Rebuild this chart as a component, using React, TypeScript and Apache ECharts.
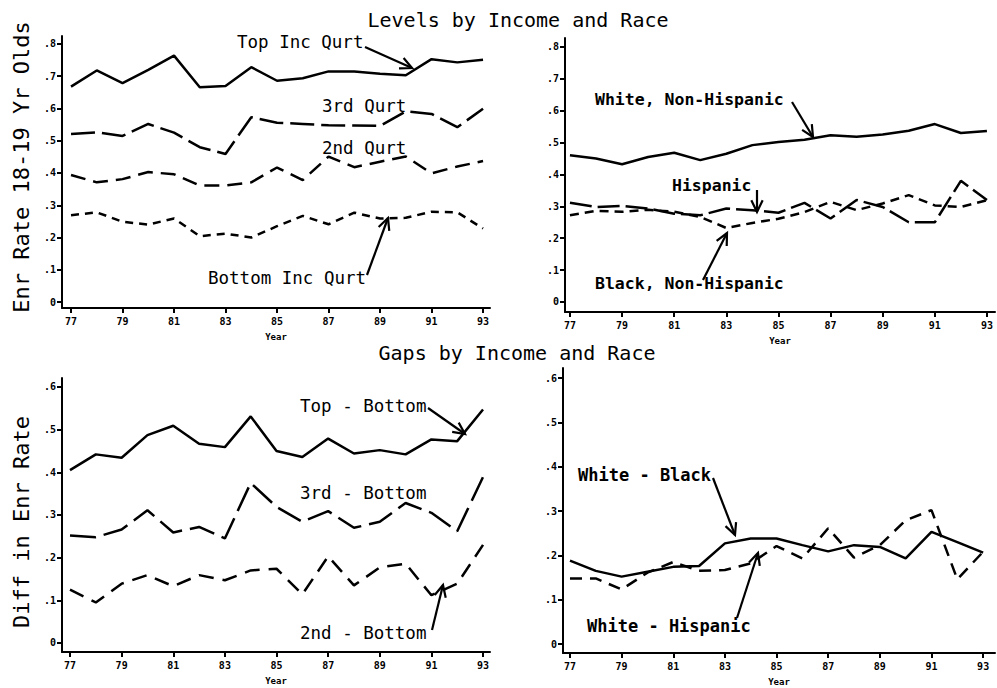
import React, { useEffect, useRef } from "react";
import * as echarts from "echarts";

const years = [77, 78, 79, 80, 81, 82, 83, 84, 85, 86, 87, 88, 89, 90, 91, 92, 93];
const xTickValues = [77, 79, 81, 83, 85, 87, 89, 91, 93];
const levelTicks = [0, 0.1, 0.2, 0.3, 0.4, 0.5, 0.6, 0.7, 0.8];
const gapTicks = [0, 0.1, 0.2, 0.3, 0.4, 0.5, 0.6];

// Panel 1: levels by income quartile
const topInc = [0.668, 0.718, 0.679, 0.72, 0.764, 0.666, 0.67, 0.728, 0.686, 0.694, 0.715, 0.715, 0.708, 0.703, 0.753, 0.743, 0.751];
const thirdInc = [0.521, 0.526, 0.515, 0.552, 0.525, 0.48, 0.459, 0.573, 0.556, 0.552, 0.548, 0.547, 0.546, 0.591, 0.583, 0.542, 0.599];
const secondInc = [0.394, 0.371, 0.381, 0.403, 0.396, 0.361, 0.361, 0.371, 0.417, 0.378, 0.451, 0.418, 0.435, 0.451, 0.399, 0.42, 0.437];
const bottomInc = [0.269, 0.278, 0.249, 0.24, 0.259, 0.204, 0.212, 0.2, 0.235, 0.267, 0.241, 0.277, 0.259, 0.261, 0.28, 0.278, 0.228];

// Panel 2: levels by race
const whiteNH = [0.46, 0.45, 0.432, 0.455, 0.468, 0.445, 0.465, 0.492, 0.502, 0.509, 0.523, 0.518, 0.525, 0.537, 0.558, 0.53, 0.536];
const hispanic = [0.311, 0.298, 0.301, 0.293, 0.277, 0.272, 0.293, 0.288, 0.28, 0.311, 0.262, 0.32, 0.298, 0.25, 0.25, 0.38, 0.32];
const blackNH = [0.272, 0.286, 0.283, 0.289, 0.283, 0.267, 0.232, 0.248, 0.261, 0.282, 0.314, 0.288, 0.309, 0.335, 0.303, 0.298, 0.319];

// Panel 3: income gaps
const topMinusBottom = [0.405, 0.442, 0.434, 0.487, 0.509, 0.467, 0.459, 0.531, 0.45, 0.436, 0.479, 0.444, 0.452, 0.442, 0.477, 0.473, 0.547];
const thirdMinusBottom = [0.252, 0.248, 0.266, 0.311, 0.259, 0.272, 0.245, 0.375, 0.319, 0.284, 0.309, 0.27, 0.284, 0.328, 0.305, 0.262, 0.389];
const secondMinusBottom = [0.125, 0.095, 0.139, 0.159, 0.133, 0.159, 0.147, 0.17, 0.174, 0.114, 0.203, 0.135, 0.177, 0.186, 0.112, 0.139, 0.23];

// Panel 4: race gaps
const whiteMinusBlack = [0.188, 0.165, 0.152, 0.163, 0.174, 0.176, 0.227, 0.238, 0.238, 0.223, 0.209, 0.223, 0.219, 0.193, 0.253, 0.23, 0.206];
const whiteMinusHispanic = [0.148, 0.148, 0.123, 0.161, 0.185, 0.165, 0.167, 0.182, 0.221, 0.193, 0.261, 0.195, 0.223, 0.279, 0.302, 0.146, 0.208];

const MONO = "'DejaVu Sans Mono', 'Liberation Mono', monospace";

function pairs(vals: number[]) {
  return years.map((y, i) => [y, vals[i]]);
}

function fmtY(v: number) {
  if (Math.abs(v) < 1e-9) return "0";
  return v.toFixed(1).replace(/^0/, "");
}

function makeX(gridIndex: number, min: number, max: number) {
  return {
    type: "value",
    gridIndex,
    min,
    max,
    name: "Year",
    nameLocation: "middle",
    nameGap: 24,
    nameTextStyle: { fontFamily: MONO, fontSize: 9, fontWeight: "bold", color: "#000" },
    splitLine: { show: false },
    axisLine: { show: true, onZero: false, lineStyle: { color: "#000", width: 2 } },
    axisTick: { show: true, length: 5, lineStyle: { color: "#000", width: 2 }, customValues: xTickValues },
    axisLabel: {
      show: true,
      customValues: xTickValues,
      formatter: (v: number) => String(Math.round(v)),
      fontFamily: MONO,
      fontSize: 10,
      fontWeight: "bold",
      color: "#000",
      margin: 8,
    },
  };
}

function makeY(gridIndex: number, min: number, max: number, ticks: number[]) {
  return {
    type: "value",
    gridIndex,
    min,
    max,
    splitLine: { show: false },
    axisLine: { show: true, onZero: false, lineStyle: { color: "#000", width: 2 } },
    axisTick: { show: true, length: 5, lineStyle: { color: "#000", width: 2 }, customValues: ticks },
    axisLabel: {
      show: true,
      customValues: ticks,
      formatter: (v: number) => fmtY(v),
      fontFamily: MONO,
      fontSize: 10,
      fontWeight: "bold",
      color: "#000",
      margin: 6,
    },
  };
}

function line(name: string, idx: number, vals: number[], dash: any) {
  return {
    name,
    type: "line",
    xAxisIndex: idx,
    yAxisIndex: idx,
    data: pairs(vals),
    showSymbol: false,
    symbol: "none",
    smooth: false,
    lineStyle: { color: "#000", width: 2.5, type: dash },
  };
}

function text(str: string, x: number, y: number, size = 17.5, align = "left", rotation = 0, weight = "normal") {
  return {
    type: "text",
    x,
    y,
    rotation,
    style: {
      text: str,
      fontFamily: MONO,
      fontSize: size,
      fontWeight: weight,
      fill: "#000",
      align,
      verticalAlign: "middle",
    },
  };
}

function arrow(x1: number, y1: number, x2: number, y2: number) {
  const ang = Math.atan2(y2 - y1, x2 - x1);
  const L = 13;
  const spread = 0.45;
  const p1 = [x2 - L * Math.cos(ang - spread), y2 - L * Math.sin(ang - spread)];
  const p2 = [x2 - L * Math.cos(ang + spread), y2 - L * Math.sin(ang + spread)];
  return [
    { type: "line", shape: { x1, y1, x2, y2 }, style: { stroke: "#000", lineWidth: 2.2 } },
    { type: "polyline", shape: { points: [p1, [x2, y2], p2] }, style: { stroke: "#000", lineWidth: 2.2, fill: "none" } },
  ];
}

export default function App() {
  const ref = useRef<HTMLDivElement>(null);
  useEffect(() => {
    if (!ref.current) return;
    const chart = echarts.init(ref.current, undefined, { renderer: "svg" });
    const option: any = {
      animation: false,
      backgroundColor: "#fff",
      grid: [
        { left: 62, top: 36, width: 428, height: 272 },
        { left: 565, top: 38, width: 430, height: 274 },
        { left: 62, top: 378, width: 428, height: 274 },
        { left: 563, top: 368, width: 432, height: 285 },
      ],
      xAxis: [
        makeX(0, 76.65, 93.27),
        makeX(1, 76.81, 93.31),
        makeX(2, 76.69, 93.27),
        makeX(3, 76.73, 93.46),
      ],
      yAxis: [
        makeY(0, -0.0186, 0.8248, levelTicks),
        makeY(1, -0.0314, 0.828, levelTicks),
        makeY(2, -0.0211, 0.621, gapTicks),
        makeY(3, -0.0203, 0.6226, gapTicks),
      ],
      series: [
        line("Top Inc Qurt", 0, topInc, "solid"),
        line("3rd Qurt", 0, thirdInc, [24, 7]),
        line("2nd Qurt", 0, secondInc, [15, 8]),
        line("Bottom Inc Qurt", 0, bottomInc, [8, 6]),
        line("White, Non-Hispanic", 1, whiteNH, "solid"),
        line("Hispanic", 1, hispanic, [22, 6]),
        line("Black, Non-Hispanic", 1, blackNH, [9, 6]),
        line("Top - Bottom", 2, topMinusBottom, "solid"),
        line("3rd - Bottom", 2, thirdMinusBottom, [26, 8]),
        line("2nd - Bottom", 2, secondMinusBottom, [15, 9]),
        line("White - Black", 3, whiteMinusBlack, "solid"),
        line("White - Hispanic", 3, whiteMinusHispanic, [12, 8]),
      ],
      graphic: [
        text("Levels by Income and Race", 518, 20, 20, "center"),
        text("Gaps by Income and Race", 517, 353, 20, "center"),
        text("Enr Rate 18-19 Yr Olds", 21, 167, 22, "center", Math.PI / 2),
        text("Diff in Enr Rate", 21, 522, 22, "center", Math.PI / 2),
        text("Top Inc Qurt", 237, 42),
        ...arrow(365, 47, 412, 68),
        text("3rd Qurt", 322, 106),
        text("2nd Qurt", 322, 148),
        text("Bottom Inc Qurt", 208, 278),
        ...arrow(367, 275, 388, 218),
        text("White, Non-Hispanic", 595, 99, 16.5, "left", 0, "bold"),
        ...arrow(792, 102, 813, 137),
        text("Hispanic", 672, 185, 16.5, "left", 0, "bold"),
        ...arrow(757, 190, 757, 212),
        text("Black, Non-Hispanic", 595, 283, 16.5, "left", 0, "bold"),
        ...arrow(703, 280, 727, 233),
        text("Top - Bottom", 300, 406),
        ...arrow(428, 408, 465, 434),
        text("3rd - Bottom", 300, 493),
        text("2nd - Bottom", 300, 633),
        ...arrow(432, 630, 443, 585),
        text("White - Black", 578, 475, 17, "left", 0, "bold"),
        ...arrow(713, 478, 735, 535),
        text("White - Hispanic", 587, 626, 17, "left", 0, "bold"),
        ...arrow(737, 618, 758, 553),
      ],
    };
    chart.setOption(option);
    return () => chart.dispose();
  }, []);
  return (
    <div
      ref={ref}
      style={{ position: "absolute", left: 0, top: 0, width: 997, height: 688, background: "#fff" }}
    />
  );
}
